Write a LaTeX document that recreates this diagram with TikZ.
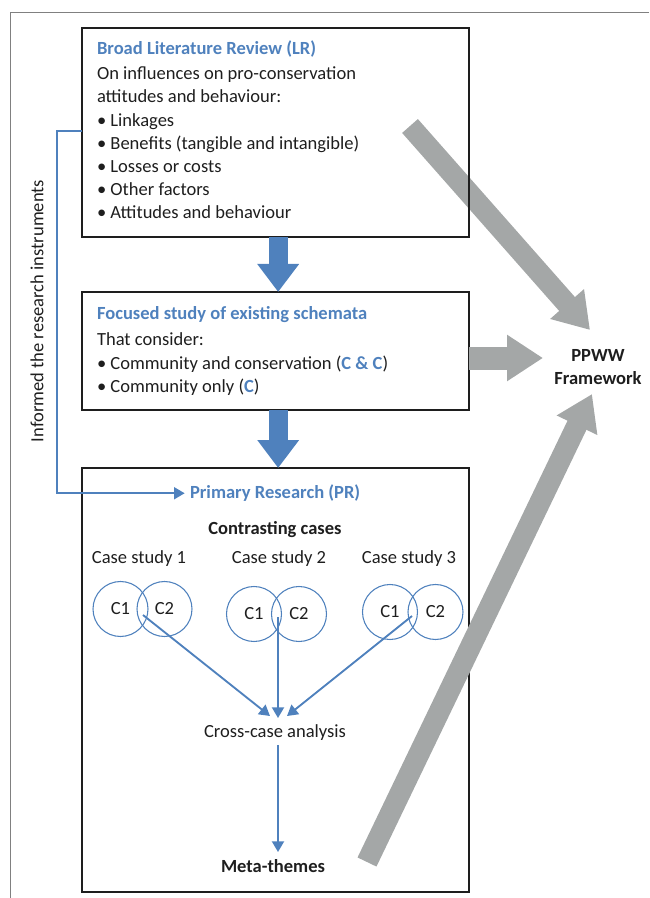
\documentclass[tikz,border=0pt]{standalone}
\usepackage{fontspec}
\setmainfont{Carlito}
\usetikzlibrary{arrows.meta,fit,calc}
\definecolor{myblue}{HTML}{4F81BD}
\definecolor{mygray}{HTML}{A4A7A7}
\definecolor{framec}{HTML}{808080}
\definecolor{txtc}{HTML}{1E1E1E}
\newcommand{\fsz}{\fontsize{13.9}{16}\selectfont}
\begin{document}
\begin{tikzpicture}[x=0.75pt,y=-0.75pt,
  every node/.style={inner sep=0pt, outer sep=0pt},
  box/.style={draw=txtc, line width=1.1pt, inner sep=0pt},
  txt/.style={anchor=base west, text=txtc, font=\fsz},
  ttl/.style={anchor=base west, text=myblue, font=\fsz\bfseries},
  ctr/.style={anchor=base, text=txtc, font=\fsz},
  bctr/.style={anchor=base, text=txtc, font=\fsz\bfseries},
  circ/.style={circle, draw=myblue, line width=0.8pt, minimum size=41.25pt, text=txtc, font=\fsz},
  bline/.style={draw=myblue, line width=1.4pt, -{Triangle[length=8pt,width=9pt]}},
  fatblue/.style={draw=myblue, line width=14.25pt, -{Triangle[length=21pt,width=30pt]}},
  fatgray/.style={draw=mygray, line width=15.75pt, -{Triangle[length=26pt,width=32pt]}}
]
\useasboundingbox (0,0) rectangle (649,898);
% outer frame
\draw[framec, line width=0.7pt] (649,12.5) -- (10.5,12.5) -- (10.5,898);

% PPWW
\node[align=center, text=txtc, font=\fontsize{13.9}{17.25}\selectfont\bfseries] (ppww) at (598,367) {PPWW\\Framework};

% gray arrow 1 (under box 1)
\coordinate (g1s) at (410,126);
\coordinate (g1e) at (590,330);
\draw[fatgray] (g1s) -- (g1e);

% Box 1
\node[box, fit={(82,28)(469,237)}] (lr) {};
\node[ttl] (lrt) at (97,55) {Broad Literature Review (LR)};
\node[txt] (lr1) at (97,80) {On influences on pro-conservation};
\node[txt] (lr2) at (97,103) {attitudes and behaviour:};
\node[txt] (lr3) at (97,127) {• Linkages};
\node[txt] (lr4) at (97,150) {• Benefits (tangible and intangible)};
\node[txt] (lr5) at (97,173) {• Losses or costs};
\node[txt] (lr6) at (97,196) {• Other factors};
\node[txt] (lr7) at (97,219) {• Attitudes and behaviour};

% Box 2
\node[box, fit={(82,292)(469,410)}] (fs) {};
\node[ttl] (fst) at (97,320) {Focused study of existing schemata};
\node[txt] (fs1) at (97,345) {That consider:};
\node[txt] (fs2) at (97,369) {• Community and conservation (\textcolor{myblue}{\textbf{C \& C}})};
\node[txt] (fs3) at (97,392) {• Community only (\textcolor{myblue}{\textbf{C}})};

% gray arrow 2
\draw[draw=mygray, line width=17.25pt, -{Triangle[length=27pt,width=33pt]}] (fs.east |- 0,358) -- (543,358);

% Box 3
\node[box, fit={(82,468)(469,892)}] (pr) {};
\node[ttl] (prt) at (190,498) {Primary Research (PR)};
\node[bctr] (cc) at (275,534) {Contrasting cases};
\node[ctr] (cs1) at (139,563) {Case study 1};
\node[ctr] (cs2) at (279,563) {Case study 2};
\node[ctr] (cs3) at (409,563) {Case study 3};
\node[circ] (a1) at (120.5,609) {C1};
\node[circ] (a2) at (164.5,609) {C2};
\node[circ] (b1) at (254,614) {C1};
\node[circ] (b2) at (299,614) {C2};
\node[circ] (d1) at (390,612) {C1};
\node[circ] (d2) at (435.5,612) {C2};
\node[ctr] (cca) at (275,737) {Cross-case analysis};
\node[bctr] (meta) at (273,872) {Meta-themes};

\coordinate (s1) at (143,615);
\coordinate (s2) at (278,617);
\coordinate (s3) at (412,616);
\coordinate (t1) at (270,716);
\coordinate (t2) at (278,718);
\coordinate (t3) at (287,716);
\draw[bline] (s1) -- (t1);
\draw[bline] (s2) -- (t2);
\draw[bline] (s3) -- (t3);
\draw[bline] ($(cca.south)+(3,5)$) -- ($(meta.north)+(5,-7)$);

% blue fat arrows
\draw[fatblue] ([xshift=2pt]lr.south) -- ([xshift=2pt]fs.north);
\draw[fatblue] ([xshift=2pt]fs.south) -- ([xshift=2pt]pr.north);

% left connector
\coordinate (j1) at (lr.west |- 0,131);
\draw[bline] (j1) -- (57,131) |- ([xshift=-4pt,yshift=-0.5pt]prt.west);
\node[rotate=90, text=txtc, font=\fsz] (inf) at (37,311) {Informed the research instruments};

% gray arrow 3 (over box 3)
\coordinate (g3s) at (367,862);
\coordinate (g3e) at (592,394);
\draw[fatgray] (g3s) -- (g3e);
\end{tikzpicture}
\end{document}
